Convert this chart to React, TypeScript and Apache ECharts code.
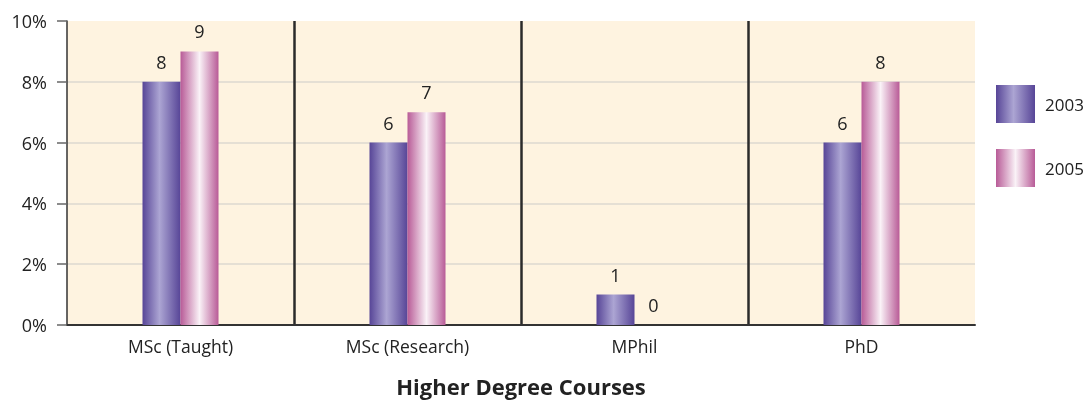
import React, { useEffect, useRef } from "react";
import * as echarts from "echarts";

const categories = ["MSc (Taught)", "MSc (Research)", "MPhil", "PhD"];
const values2003 = [8, 6, 1, 6];
const values2005 = [9, 7, 0, 8];
const seriesNames = ["2003", "2005"];
const yTicks = { min: 0, max: 10, interval: 2 };
const titleText = "Higher Degree Courses";

const FONT = "'Open Sans', 'Noto Sans', sans-serif";

const grad2003 = new echarts.graphic.LinearGradient(0, 0, 1, 0, [
  { offset: 0, color: "#574597" },
  { offset: 0.45, color: "#aca5d3" },
  { offset: 1, color: "#574597" },
]);
const grad2005 = new echarts.graphic.LinearGradient(0, 0, 1, 0, [
  { offset: 0, color: "#b85b97" },
  { offset: 0.5, color: "#faf2f7" },
  { offset: 1, color: "#b85b97" },
]);

export default function App() {
  const ref = useRef<HTMLDivElement>(null);
  useEffect(() => {
    if (!ref.current) return;
    const chart = echarts.init(ref.current, null, { renderer: "svg" });
    const label = {
      show: true,
      position: "top",
      distance: 11,
      color: "#222",
      fontSize: 18,
      fontFamily: FONT,
    };
    chart.setOption({
      animation: false,
      textStyle: { fontFamily: FONT },
      grid: {
        left: 67,
        right: 114,
        top: 21,
        bottom: 77,
        show: true,
        backgroundColor: "#fef3e0",
        borderWidth: 0,
      },
      legend: {
        orient: "vertical",
        left: 996,
        top: 85,
        itemWidth: 39,
        itemHeight: 38,
        itemGap: 26,
        icon: "rect",
        padding: 0,
        textStyle: { fontSize: 17, color: "#222", fontFamily: FONT, padding: [0, 0, 0, 5] },
        data: seriesNames,
      },
      graphic: [
        {
          type: "text",
          x: 521,
          y: 386,
          style: {
            text: titleText,
            fontSize: 22,
            fontWeight: "bold",
            fill: "#222",
            fontFamily: FONT,
            textAlign: "center",
            textVerticalAlign: "middle",
          },
        },
      ],
      xAxis: {
        type: "category",
        data: categories,
        axisLine: { show: true, lineStyle: { color: "#333", width: 2 } },
        axisTick: { show: false },
        axisLabel: { margin: 12, fontSize: 17.5, color: "#222", fontFamily: FONT },
        splitLine: {
          show: true,
          lineStyle: {
            color: ["transparent", "#2b2b2b", "#2b2b2b", "#2b2b2b", "transparent"],
            width: 2.5,
          },
        },
      },
      yAxis: {
        type: "value",
        min: yTicks.min,
        max: yTicks.max,
        interval: yTicks.interval,
        axisLine: { show: true, lineStyle: { color: "#333", width: 1.5 } },
        axisTick: { show: true, length: 10, lineStyle: { color: "#666", width: 1.5 } },
        axisLabel: {
          formatter: "{value}%",
          margin: 20,
          fontSize: 18,
          color: "#222",
          fontFamily: FONT,
        },
        splitLine: {
          show: true,
          lineStyle: {
            color: ["#dcd8d0", "#dcd8d0", "#dcd8d0", "#dcd8d0", "#dcd8d0", "transparent"],
            width: 1.5,
          },
        },
      },
      series: [
        {
          name: seriesNames[0],
          type: "bar",
          data: values2003,
          barWidth: 38,
          barGap: "0%",
          itemStyle: { color: grad2003 },
          label,
        },
        {
          name: seriesNames[1],
          type: "bar",
          data: values2005,
          barWidth: 38,
          barGap: "0%",
          itemStyle: { color: grad2005 },
          label,
        },
      ],
    });
    return () => chart.dispose();
  }, []);
  return (
    <div
      ref={ref}
      style={{ position: "fixed", left: 0, top: 0, width: 1089, height: 402 }}
    />
  );
}
